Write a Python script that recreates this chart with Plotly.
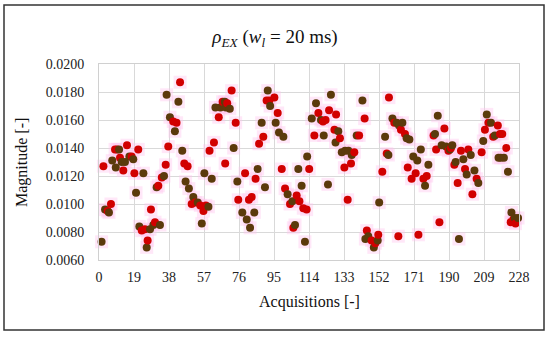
import plotly.graph_objects as go

acquisitions = [
    1.4, 2.4, 3.3, 4.7, 5.4, 6.5, 7.2, 8.7, 9.1, 9.8, 10.9, 11.4, 12.3, 13.2, 14.1, 15.2, 16.5, 17.7, 18.6,
    19.2, 20.1, 21.3, 21.9, 23.2, 24.1, 24.9, 25.9, 26.4, 27.7, 28.2, 29.5, 30.4, 31.3, 32.2, 33.1, 34.1,
    35.3, 36.2, 36.7, 37.6, 38.5,
    40.3, 41.2, 42.1, 43.1, 44.0, 45.2, 46.3, 47.0, 48.1, 48.8, 50.3, 51.2, 52.3, 53.6, 55.0, 55.8, 56.7,
    57.2, 58.0, 59.4, 60.0, 61.2, 62.4, 63.2, 65.0, 65.9, 67.1, 68.3, 68.5, 68.9, 69.6, 71.0, 72.0, 73.1,
    74.2, 75.1, 75.6,
    77.8, 79.3, 80.2, 81.4, 82.0, 82.9, 84.3, 85.0, 86.1, 86.9, 88.3, 89.2, 90.1, 91.0, 91.6, 92.5, 92.9,
    95.2, 95.9, 97.0, 97.7, 99.2, 100.1, 101.0, 102.4, 103.7, 105.0, 105.5, 106.4, 107.3, 108.2, 108.8,
    110.0, 110.9, 111.8, 112.7,
    113.0, 114.1, 115.5, 116.9, 117.8, 119.1, 120.5, 121.6, 122.0, 123.0, 124.3, 124.9, 125.9, 127.8,
    128.4, 128.7, 129.9, 130.8, 131.8, 133.2, 133.6, 135.0, 135.4, 136.8, 137.2, 138.6, 139.9, 141.2,
    143.0, 144.2, 144.6, 145.4, 146.2, 148.0, 149.2, 150.0, 151.3, 151.6, 152.1, 153.8,
    155.3, 156.2, 157.1, 157.4, 159.3, 160.3, 161.6, 162.5, 162.9, 163.9, 164.7, 166.1, 167.0, 167.6,
    168.5, 169.7, 170.6, 171.9, 172.8, 173.4, 174.7, 176.1, 177.0, 177.9, 178.8, 181.6, 182.4, 183.0,
    183.9, 184.8, 186.0, 187.5, 188.4, 189.7,
    190.5, 191.1, 191.8, 192.9, 193.6, 194.7, 195.4, 196.5, 197.8, 198.7, 199.6, 200.5, 201.8, 202.7,
    203.8, 205.0, 205.9, 207.7, 208.6, 209.5, 210.5, 211.4, 212.8, 214.0, 214.9, 216.5, 216.9, 217.7,
    218.1, 218.9, 219.8, 221.1, 222.0, 223.5, 223.9, 224.9, 225.7, 226.1, 227.5,
]

magnitude = [
    0.0073, 0.0127, 0.0096, 0.0095, 0.0094, 0.0100, 0.0131, 0.0139, 0.0126, 0.0139, 0.0139, 0.0133, 0.0130,
    0.0124, 0.0130, 0.0142, 0.0134, 0.0134, 0.0132, 0.0122, 0.0108, 0.0139, 0.0084, 0.0081, 0.0122, 0.0082,
    0.0069, 0.0074, 0.0082, 0.0096, 0.0085, 0.0087, 0.0112, 0.0113, 0.0085, 0.0119, 0.0120, 0.0128, 0.0178,
    0.0141, 0.0162,
    0.0159, 0.0152, 0.0158, 0.0173, 0.0187, 0.0138, 0.0129, 0.0116, 0.0127, 0.0111, 0.0100, 0.0105, 0.0101,
    0.0101, 0.0099, 0.0086, 0.0095, 0.0122, 0.0099, 0.0098, 0.0138, 0.0118, 0.0144, 0.0169, 0.0162, 0.0169,
    0.0173, 0.0173, 0.0129, 0.0169, 0.0172, 0.0168, 0.0181, 0.0140, 0.0158, 0.0116, 0.0103,
    0.0094, 0.0122, 0.0089, 0.0103, 0.0083, 0.0105, 0.0094, 0.0118, 0.0125, 0.0143, 0.0158, 0.0148, 0.0112,
    0.0174, 0.0181, 0.0174, 0.0170, 0.0176, 0.0158, 0.0165, 0.0151, 0.0125, 0.0148, 0.0111, 0.0107, 0.0100,
    0.0102, 0.0083, 0.0085, 0.0106, 0.0125, 0.0102, 0.0113, 0.0097, 0.0073, 0.0096,
    0.0134, 0.0125, 0.0161, 0.0149, 0.0172, 0.0165, 0.0160, 0.0159, 0.0149, 0.0160, 0.0114, 0.0167, 0.0178,
    0.0153, 0.0144, 0.0164, 0.0152, 0.0147, 0.0137, 0.0126, 0.0138, 0.0103, 0.0138, 0.0129, 0.0135, 0.0137,
    0.0149, 0.0149, 0.0174, 0.0161, 0.0075, 0.0081, 0.0077, 0.0074, 0.0069, 0.0072, 0.0074, 0.0078, 0.0101,
    0.0123,
    0.0148, 0.0136, 0.0135, 0.0176, 0.0161, 0.0158, 0.0158, 0.0077, 0.0156, 0.0153, 0.0158, 0.0150, 0.0147,
    0.0126, 0.0146, 0.0118, 0.0134, 0.0122, 0.0131, 0.0078, 0.0139, 0.0118, 0.0113, 0.0120, 0.0128, 0.0149,
    0.0150, 0.0139, 0.0163, 0.0087, 0.0142, 0.0154, 0.0141, 0.0138,
    0.0139, 0.0140, 0.0142, 0.0128, 0.0130, 0.0115, 0.0075, 0.0138, 0.0132, 0.0125, 0.0121, 0.0139, 0.0135,
    0.0107, 0.0124, 0.0118, 0.0115, 0.0137, 0.0145, 0.0153, 0.0164, 0.0158, 0.0158, 0.0148, 0.0149, 0.0156,
    0.0133, 0.0150, 0.0133, 0.0150, 0.0133, 0.0140, 0.0123, 0.0087, 0.0094, 0.0089, 0.0090, 0.0086, 0.0090,
]

x_ticks = [0, 19, 38, 57, 76, 95, 114, 133, 152, 171, 190, 209, 228]
y_ticks = [0.0060, 0.0080, 0.0100, 0.0120, 0.0140, 0.0160, 0.0180, 0.0200]

SERIF = "Liberation Serif"
colors = ["#5b3a0b" if i % 2 == 0 else "#d10000" for i in range(len(acquisitions))]

fig = go.Figure()
fig.add_trace(go.Scatter(
    x=acquisitions, y=magnitude, mode="markers", hoverinfo="skip",
    marker=dict(size=13, symbol="square", color="rgba(255,195,238,0.40)", line=dict(width=0)),
    cliponaxis=False, showlegend=False))
fig.add_trace(go.Scatter(
    x=acquisitions, y=magnitude, mode="markers",
    marker=dict(size=8, color=colors, line=dict(width=0)),
    cliponaxis=False, showlegend=False))

L, R, T, B = 99, 31, 64, 79
W, H = 550, 339
pw, ph = W - L - R, H - T - B

fig.update_layout(
    width=W, height=H,
    margin=dict(l=L, r=R, t=T, b=B),
    paper_bgcolor="white", plot_bgcolor="white",
    font=dict(family=SERIF, size=13, color="#222222"),
    title=dict(text="<i>ρ</i><sub><i>EX</i></sub> (<i>w</i><sub><i>l</i></sub> = 20 ms)",
               x=0.5, xanchor="center", y=1 - 36 / H, yanchor="middle", yref="container",
               font=dict(family=SERIF, size=19, color="#111111")),
    xaxis=dict(range=[0, 228], tickvals=x_ticks, ticktext=[str(v) for v in x_ticks],
               showgrid=True, gridcolor="#d9d9d9", gridwidth=1, zeroline=False,
               showline=True, linecolor="#d0d0d0", mirror=True, ticks="", ticklabelstandoff=4,
               tickfont=dict(family=SERIF, size=14, color="#222222")),
    yaxis=dict(range=[0.0060, 0.0200], tickvals=y_ticks, tickformat=".4f",
               showgrid=True, gridcolor="#d9d9d9", gridwidth=1, zeroline=False,
               showline=True, linecolor="#d0d0d0", mirror=True, ticks="", ticklabelstandoff=11,
               tickfont=dict(family=SERIF, size=14, color="#222222")),
    annotations=[
        dict(text="Acquisitions [-]", xref="paper", yref="paper", x=0.5, y=(260 - 302) / ph,
             xanchor="center", yanchor="middle", showarrow=False,
             font=dict(family=SERIF, size=16, color="#111111")),
        dict(text="Magnitude [-]", xref="paper", yref="paper", x=(22 - L) / pw, y=(260 - 163) / ph,
             xanchor="center", yanchor="middle", showarrow=False, textangle=-90,
             font=dict(family=SERIF, size=16, color="#111111")),
    ],
    shapes=[dict(type="rect", xref="paper", yref="paper",
                 x0=(4 - L) / pw, x1=(544 - L) / pw, y0=(260 - 330) / ph, y1=(260 - 5) / ph,
                 line=dict(color="#333333", width=1.5), fillcolor="rgba(0,0,0,0)", layer="below")],
)

fig.write_html("out.html", config={"displayModeBar": False},
               post_script="document.body.style.margin='0';")
